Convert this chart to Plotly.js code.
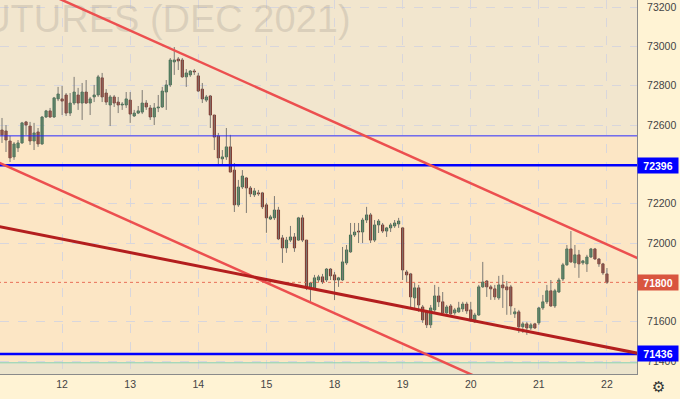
<!DOCTYPE html>
<html>
<head>
<meta charset="utf-8">
<script src="https://cdn.plot.ly/plotly-3.0.1.min.js"></script>
<style>html,body{margin:0;padding:0;background:#FFF3D4;}#chart{width:680px;height:399px;}</style>
</head>
<body>
<div id="chart"></div>
<script>
// ---- data (hourly candles, index 0 = first candle of day 12) ----
const firstIndex = -15;
const open = [72575,72570,72519,72438,72484,72509,72616,72595,72519,72565,72504,72641,72672,72641,72733,
72733,72753,72661,72712,72753,72712,72768,72712,72743,72753,72840,72763,72702,72743,72717,72702,72702,
72727,72646,72661,72666,72712,72687,72641,72687,72692,72768,72804,72921,72936,72931,72845,72855,72875,
72850,72783,72727,72748,72651,72545,72428,72438,72489,72371,72194,72285,72331,72280,72245,72255,72255,
72194,72122,72128,72168,72026,71975,72015,72031,72015,72128,72015,71777,71767,71812,71828,71812,71868,
71838,71812,71812,71899,71955,72041,72061,72056,72117,72143,72015,72092,72092,72061,72077,72087,72097,
72077,71853,71843,71721,71772,71675,71650,71584,71660,71731,71701,71645,71680,71645,71650,71665,71690,
71660,71599,71634,71777,71807,71777,71767,71721,71787,71777,71777,71640,71650,71574,71589,71568,71589,
71594,71670,71701,71757,71680,71751,71817,71889,71970,71899,71940,71899,71894,71929,71970,71919,71894,71843];
const high = [72636,72600,72545,72514,72524,72616,72621,72616,72611,72585,72646,72677,72687,72743,72794,
72799,72763,72763,72845,72789,72814,72829,72743,72804,72855,72865,72783,72753,72753,72743,72717,72768,
72768,72677,72697,72778,72727,72702,72712,72753,72794,72829,72941,72997,72946,72941,72885,72880,72885,
72865,72814,72753,72753,72651,72560,72473,72585,72550,72407,72321,72371,72336,72290,72280,72270,72260,
72204,72143,72239,72184,72041,72031,72087,72051,72133,72143,72015,71802,71838,71838,71843,71873,71873,
71853,71828,71980,71990,72102,72102,72102,72128,72184,72153,72117,72122,72102,72082,72102,72117,72128,
72082,71863,71848,71797,71787,71685,71660,71685,71787,71777,71751,71685,71690,71670,71701,71701,71701,
71701,71645,71787,71904,71812,71787,71787,71833,71838,71807,71787,71670,71660,71599,71599,71594,71594,
71675,71736,71787,71812,71767,71823,71899,71990,72061,71990,71965,71914,71940,71975,71975,71924,71899,71873];
const low = [72509,72463,72412,72423,72463,72504,72550,72499,72473,72489,72499,72636,72636,72636,72722,
72651,72646,72646,72702,72677,72626,72707,72651,72717,72743,72717,72702,72595,72692,72661,72677,72687,
72611,72641,72656,72656,72677,72626,72600,72666,72687,72677,72794,72855,72880,72840,72794,72845,72855,
72768,72712,72717,72585,72473,72397,72397,72423,72361,72158,72184,72275,72153,72234,72234,72240,72173,
72052,72117,72117,72015,71899,71950,72005,71955,72011,72005,71761,71701,71762,71802,71792,71802,71812,
71710,71777,71807,71889,71950,72031,72000,72000,72102,72000,72005,72051,72051,72031,72056,72077,72077,
71812,71802,71670,71670,71650,71594,71568,71568,71650,71675,71640,71629,71635,71635,71645,71650,71640,
71599,71594,71629,71772,71726,71711,71711,71711,71670,71635,71635,71619,71543,71543,71533,71558,71563,
71584,71660,71690,71675,71670,71746,71807,71884,71899,71874,71823,71889,71853,71924,71914,71879,71838,71792];
const close = [72550,72524,72433,72504,72509,72611,72600,72519,72560,72504,72641,72672,72641,72738,72758,
72722,72661,72712,72768,72712,72768,72712,72733,72753,72845,72743,72717,72743,72712,72702,72707,72733,
72656,72661,72672,72712,72692,72641,72687,72692,72773,72804,72931,72931,72926,72845,72865,72875,72870,
72773,72733,72743,72651,72539,72433,72438,72489,72361,72194,72285,72341,72280,72250,72265,72250,72184,
72128,72133,72168,72021,71975,72015,72031,71975,72128,72015,71772,71797,71823,71828,71802,71868,71833,
71812,71823,71904,71965,72041,72056,72056,72117,72143,72015,72092,72112,72061,72077,72092,72102,72112,
71863,71838,71726,71772,71685,71609,71584,71670,71731,71701,71645,71675,71640,71660,71670,71690,71655,
71604,71634,71777,71802,71777,71767,71726,71787,71772,71762,71680,71650,71574,71589,71568,71584,71568,
71670,71701,71757,71680,71757,71812,71889,71970,71904,71940,71894,71909,71929,71970,71919,71894,71848,71800];

// day ticks and price-axis labels
const dayTickIdx = [0,17,34,51,68,85,102,119,136];
const dayLabels = ['12','13','14','15','18','19','20','21','22'];
const priceTicks = [71400,71600,72000,72200,72600,72800,73000,73200];

// drawn levels and trend lines (index, price)
const levelThin = 72545;
const levelUpper = 72396;
const levelLower = 71436;
const levelGreen = 71391;
const lastPrice = 71800;
const upperChannelX = [-16, 144], upperChannelY = [73382, 71920];
const lowerChannelX = [-16, 144], lowerChannelY = [72411, 70949];
const supportX = [-16, 144], supportY = [72085, 71438];
const watermark = 'FUTURES (DEC 2021)';

const xRange = [-15.5, 143.5];
const yRange = [71334, 73236];

const xs = open.map((_, k) => k + firstIndex);
const spanX = [-16, 144];

// wicks as one grey polyline with gaps
const wickX = [], wickY = [];
xs.forEach((x, k) => { wickX.push(x, x, null); wickY.push(low[k], high[k], null); });
// bodies as bars based at min(open, close)
const bodyBase = open.map((o, k) => Math.min(o, close[k]));
const bodyLen = open.map((o, k) => Math.max(Math.abs(close[k] - o), 3));
const isUp = open.map((o, k) => close[k] >= o);
const bodyFill = isUp.map(u => u ? '#3f9463' : '#a8372c');
const bodyEdge = isUp.map(u => u ? '#2f5e43' : '#6a261f');

const traces = [
  {type:'scatter', mode:'text', x:[72], y:[73124], text:[watermark], textposition:'middle left',
   textfont:{family:'Liberation Sans, Arial, sans-serif', size:38, color:'rgba(160,150,140,0.28)'},
   hoverinfo:'skip', showlegend:false, cliponaxis:true},
  {type:'scatter', mode:'lines', x:spanX, y:[lastPrice,lastPrice], line:{color:'#E8705A', width:1, dash:'dot'}, hoverinfo:'skip'},
  {type:'scatter', mode:'lines', x:wickX, y:wickY, line:{color:'#7d7a74', width:1}, hoverinfo:'skip', connectgaps:false},
  {type:'bar', x:xs, y:bodyLen, base:bodyBase, width:0.55,
   marker:{color:bodyFill, line:{color:bodyEdge, width:0.8}}, hoverinfo:'skip'},
  {type:'scatter', mode:'lines', x:spanX, y:[levelThin,levelThin], line:{color:'#2a2aff', width:1}, hoverinfo:'skip'},
  {type:'scatter', mode:'lines', x:spanX, y:[levelUpper,levelUpper], line:{color:'#0000ff', width:2.5}, hoverinfo:'skip'},
  {type:'scatter', mode:'lines', x:spanX, y:[levelLower,levelLower], line:{color:'#0000ff', width:2.5}, hoverinfo:'skip'},
  {type:'scatter', mode:'lines', x:spanX, y:[levelGreen,levelGreen], line:{color:'#86d3b4', width:1}, hoverinfo:'skip'},
  {type:'scatter', mode:'lines', x:upperChannelX, y:upperChannelY, line:{color:'#ec4f4f', width:2.5}, hoverinfo:'skip'},
  {type:'scatter', mode:'lines', x:lowerChannelX, y:lowerChannelY, line:{color:'#ec4f4f', width:2.5}, hoverinfo:'skip'},
  {type:'scatter', mode:'lines', x:supportX, y:supportY, line:{color:'#b31e1e', width:3}, hoverinfo:'skip'}
];

const boxFont = {family:'Liberation Sans, Arial, sans-serif', size:10.5, color:'#ffffff'};
const layout = {
  width:680, height:399,
  margin:{l:0, r:43, t:0, b:25},
  paper_bgcolor:'#FFF3D4',
  plot_bgcolor:'#FCE6C5',
  showlegend:false,
  bargap:0,
  font:{family:'Liberation Sans, Arial, sans-serif', size:10, color:'#444'},
  xaxis:{range:xRange, tickvals:dayTickIdx, ticktext:dayLabels, showgrid:true,
         gridcolor:'#d8d6dc', griddash:'dash', gridwidth:1, zeroline:false,
         showline:true, linecolor:'#8a8a8a', linewidth:1, ticks:'',
         tickfont:{size:10.5, color:'#444'}, fixedrange:true},
  yaxis:{range:yRange, side:'right', tickvals:priceTicks, showgrid:true,
         gridcolor:'#d8d6dc', griddash:'dash', gridwidth:1, zeroline:false,
         showline:true, linecolor:'#8a8a8a', linewidth:1, ticks:'', ticklabelstandoff:7,
         tickfont:{size:10.5, color:'#444'}, tickformat:'d', fixedrange:true},
  shapes:[
    {type:'rect', xref:'paper', yref:'y', x0:0, x1:1, y0:levelThin, y1:yRange[1]+50, fillcolor:'#F2E6CE', line:{width:0}, layer:'below'},
    {type:'rect', xref:'paper', yref:'y', x0:0, x1:1, y0:yRange[0]-50, y1:levelGreen, fillcolor:'#ECE4CC', line:{width:0}, layer:'below'}
  ],
  annotations:[
    {xref:'paper', yref:'y', x:1, y:levelUpper, xanchor:'left', yanchor:'middle', text:'<b>'+levelUpper+'</b>', showarrow:false,
     bgcolor:'#0000ff', font:boxFont, width:38, height:13, borderpad:1},
    {xref:'paper', yref:'y', x:1, y:levelLower, xanchor:'left', yanchor:'middle', text:'<b>'+levelLower+'</b>', showarrow:false,
     bgcolor:'#0000ff', font:boxFont, width:38, height:13, borderpad:1},
    {xref:'paper', yref:'y', x:1, y:lastPrice, xanchor:'left', yanchor:'middle', text:'<b>'+lastPrice+'</b>', showarrow:false,
     bgcolor:'#d9553f', font:boxFont, width:38, height:13, borderpad:1},
    {xref:'paper', yref:'paper', x:1.033, y:-0.035, xanchor:'center', yanchor:'middle', text:'⚙', showarrow:false,
     font:{family:'DejaVu Sans', size:15, color:'#333'}}
  ]
};

Plotly.newPlot('chart', traces, layout, {staticPlot:true, displayModeBar:false});
</script>
</body>
</html>
